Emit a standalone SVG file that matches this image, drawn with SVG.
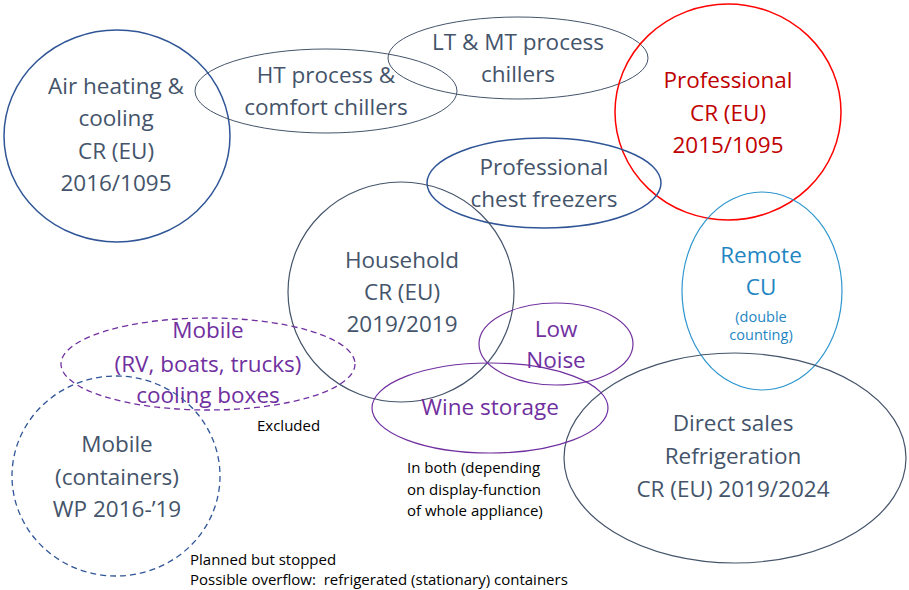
<svg xmlns="http://www.w3.org/2000/svg" width="909" height="590" viewBox="0 0 909 590">
<style>
text{font-family:"Open Sans","Liberation Sans",sans-serif;text-anchor:middle}
.lbl{font-size:22.5px;fill:#44546A}
.pur{font-size:22.5px;fill:#7030A0}
.red{font-size:22.5px;fill:#C00000}
.blu{font-size:22.5px;fill:#1F86C2}
.bls{font-size:14.5px;fill:#1F86C2}
.note{font-size:15px;fill:#000;text-anchor:start}
ellipse{fill:none}
.gray{stroke:#44546A;stroke-width:1.2}
.grayt{stroke:#44546A;stroke-width:1}
.dblue{stroke:#2F5597;stroke-width:1.5}
.rline{stroke:#FF0000;stroke-width:1.5}
.cyan{stroke:#2E96CE;stroke-width:1.2}
.purl{stroke:#7030A0;stroke-width:1.2}
.dashp{stroke:#7030A0;stroke-width:1.3;stroke-dasharray:6 4}
.dashb{stroke:#2F5597;stroke-width:1.3;stroke-dasharray:6 4}
</style>
<g id="air-heating">
<ellipse class="dblue" cx="117" cy="136" rx="113" ry="106"/>
<text class="lbl" x="116" y="94">Air heating &amp;</text>
<text class="lbl" x="116" y="126">cooling</text>
<text class="lbl" x="116" y="159">CR (EU)</text>
<text class="lbl" x="116" y="191">2016/1095</text>
</g>
<g id="ht-chillers">
<ellipse class="grayt" cx="326" cy="91" rx="131" ry="42"/>
<text class="lbl" x="326" y="83">HT process &amp;</text>
<text class="lbl" x="326" y="115">comfort chillers</text>
</g>
<g id="lt-mt-chillers">
<ellipse class="grayt" cx="518" cy="58" rx="130" ry="41"/>
<text class="lbl" x="518" y="50">LT &amp; MT process</text>
<text class="lbl" x="518" y="82">chillers</text>
</g>
<g id="professional">
<ellipse class="rline" cx="728" cy="112" rx="113" ry="108"/>
<text class="red" x="728" y="88">Professional</text>
<text class="red" x="728" y="121">CR (EU)</text>
<text class="red" x="728" y="153">2015/1095</text>
</g>
<g id="chest-freezers">
<ellipse class="dblue" cx="544" cy="183" rx="117" ry="45"/>
<text class="lbl" x="544" y="175">Professional</text>
<text class="lbl" x="544" y="207">chest freezers</text>
</g>
<g id="household">
<ellipse class="gray" cx="401" cy="292" rx="113" ry="110"/>
<text class="lbl" x="402" y="268">Household</text>
<text class="lbl" x="402" y="300">CR (EU)</text>
<text class="lbl" x="402" y="332">2019/2019</text>
</g>
<g id="remote-cu">
<ellipse class="cyan" cx="762" cy="291" rx="80" ry="99"/>
<text class="blu" x="761" y="263">Remote</text>
<text class="blu" x="761" y="295">CU</text>
<text class="bls" x="761" y="322">(double</text>
<text class="bls" x="761" y="340">counting)</text>
</g>
<g id="low-noise">
<ellipse class="purl" cx="556" cy="344" rx="77" ry="41"/>
<text class="pur" x="556" y="337">Low</text>
<text class="pur" x="556" y="368">Noise</text>
</g>
<g id="direct-sales">
<ellipse class="gray" cx="735" cy="458" rx="171" ry="105"/>
<text class="lbl" x="733" y="431">Direct sales</text>
<text class="lbl" x="733" y="464">Refrigeration</text>
<text class="lbl" x="733" y="497">CR (EU) 2019/2024</text>
</g>
<g id="wine-storage">
<ellipse class="purl" cx="490" cy="408" rx="118" ry="45"/>
<text class="pur" x="490" y="415">Wine storage</text>
<text class="note" x="407" y="473">In both (depending</text>
<text class="note" x="407" y="495">on display-function</text>
<text class="note" x="407" y="516">of whole appliance)</text>
</g>
<g id="mobile-rv">
<ellipse class="dashp" cx="208" cy="364" rx="147" ry="46"/>
<text class="pur" x="208" y="338">Mobile</text>
<text class="pur" x="208" y="372">(RV, boats, trucks)</text>
<text class="pur" x="208" y="403">cooling boxes</text>
<text class="note" x="257" y="431">Excluded</text>
</g>
<g id="mobile-containers">
<ellipse class="dashb" cx="116" cy="476" rx="104" ry="100"/>
<text class="lbl" x="117" y="452">Mobile</text>
<text class="lbl" x="117" y="485">(containers)</text>
<text class="lbl" x="117" y="517">WP 2016-’19</text>
<text class="note" x="190" y="565">Planned but stopped</text>
<text class="note" x="190" y="585" xml:space="preserve">Possible overflow:  refrigerated (stationary) containers</text>
</g>
<g id="connectors"></g>
</svg>
